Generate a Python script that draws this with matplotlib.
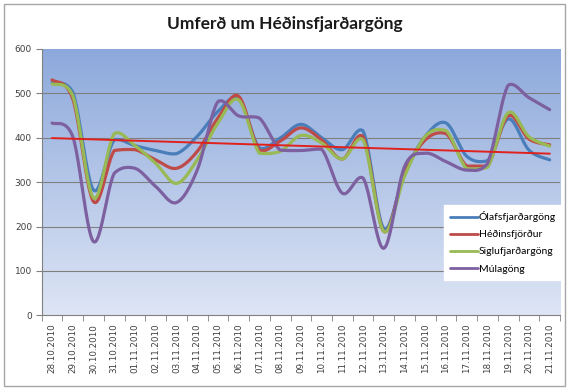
import numpy as np
import matplotlib
matplotlib.use('Agg')
import matplotlib.pyplot as plt
from matplotlib.patches import Rectangle

# ------------------------------------------------------------------------------
# data

dates = ['28.10.2010', '29.10.2010', '30.10.2010', '31.10.2010', '01.11.2010',
         '02.11.2010', '03.11.2010', '04.11.2010', '05.11.2010', '06.11.2010',
         '07.11.2010', '08.11.2010', '09.11.2010', '10.11.2010', '11.11.2010',
         '12.11.2010', '13.11.2010', '14.11.2010', '15.11.2010', '16.11.2010',
         '17.11.2010', '18.11.2010', '19.11.2010', '20.11.2010', '21.11.2010']

olafsfjardargong = [524, 502, 282, 395, 382, 371, 364, 403, 459, 489, 377, 399,
                    430, 400, 373, 415, 196, 320, 403, 433, 358, 348, 442, 372, 350]

hedinsfjordur = [530, 487, 256, 371, 373, 350, 331, 369, 444, 493, 372, 392,
                 422, 395, 352, 402, 189, 320, 395, 409, 336, 336, 449, 397, 384]

siglufjardargong = [521, 494, 264, 409, 382, 342, 297, 350, 433, 485, 365, 369,
                    405, 388, 352, 395, 189, 313, 403, 416, 330, 333, 456, 402, 381]

mulagong = [433, 402, 166, 320, 331, 290, 254, 327, 481, 449, 444, 372,
            371, 374, 275, 309, 151, 335, 365, 346, 327, 342, 518, 490, 463]

trend_ends = [399, 364]

series_names = ['Ólafsfjarðargöng', 'Héðinsfjörður', 'Siglufjarðargöng', 'Múlagöng']
series_colors = ['#4A7EBB', '#BE4B48', '#98B954', '#7D60A0']

# ------------------------------------------------------------------------------

def smoothLine(xs, ys, steps = 24, slack = 0.35):

    # bezier curve through the points, control points kept close to each
    # segment's range so it does not bulge much (like excel's smoothed line)
    xs = np.asarray(xs, dtype = float)
    ys = np.asarray(ys, dtype = float)
    px = np.concatenate(([xs[0]], xs, [xs[-1]]))
    py = np.concatenate(([ys[0]], ys, [ys[-1]]))

    out_x = []
    out_y = []
    t = np.linspace(0, 1, steps, endpoint = False)
    for i in range(1, len(px) - 2):
        p0x, p1x, p2x, p3x = px[i - 1], px[i], px[i + 1], px[i + 2]
        p0y, p1y, p2y, p3y = py[i - 1], py[i], py[i + 1], py[i + 2]
        c1x = p1x + (p2x - p0x) / 6.0
        c1y = p1y + (p2y - p0y) / 6.0
        c2x = p2x - (p3x - p1x) / 6.0
        c2y = p2y - (p3y - p1y) / 6.0
        margin = slack * abs(p2y - p1y)
        lo, hi = min(p1y, p2y) - margin, max(p1y, p2y) + margin
        c1y = np.clip(c1y, lo, hi)
        c2y = np.clip(c2y, lo, hi)
        b0 = (1 - t) ** 3
        b1 = 3 * (1 - t) ** 2 * t
        b2 = 3 * (1 - t) * t ** 2
        b3 = t ** 3
        out_x.extend(b0 * p1x + b1 * c1x + b2 * c2x + b3 * p2x)
        out_y.extend(b0 * p1y + b1 * c1y + b2 * c2y + b3 * p2y)
    out_x.append(xs[-1])
    out_y.append(ys[-1])

    return np.array(out_x), np.array(out_y)

def makeChart():

    fig = plt.figure(figsize = (5.7, 3.9), dpi = 100)
    fig.patch.set_facecolor('white')

    # outer chart border
    fig.patches.append(Rectangle((4 / 570, 4 / 390), 561 / 570, 382 / 390,
                                 transform = fig.transFigure, fill = False,
                                 edgecolor = '#A6A6A6', linewidth = 1.0))

    ax = fig.add_axes([0.0732, 0.1913, 0.9093, 0.6836])

    # gradient background of the plot area
    grad = np.linspace(0, 1, 256).reshape(-1, 1)
    top = np.array([0.55, 0.66, 0.86])
    bottom = np.array([0.87, 0.90, 0.96])
    img = top[None, None, :] * (1 - grad[:, :, None]) + bottom[None, None, :] * grad[:, :, None]
    ax.imshow(img, extent = [0, 1, 0, 1], transform = ax.transAxes,
              aspect = 'auto', zorder = 0)

    x = np.arange(len(dates))
    all_series = [olafsfjardargong, hedinsfjordur, siglufjardargong, mulagong]

    for vals, name, col in zip(all_series, series_names, series_colors):
        sx, sy = smoothLine(x, vals)
        ax.plot(sx, sy, color = col, linewidth = 2.3, label = name,
                solid_capstyle = 'round', zorder = 3)

    ax.plot([x[0], x[-1]], trend_ends, color = '#E0211C', linewidth = 1.4, zorder = 4)

    ax.set_xlim(-0.5, len(dates) - 0.5)
    ax.set_ylim(0, 600)
    ax.set_yticks(np.arange(0, 601, 100))
    ax.set_xticks(x)
    ax.set_xticklabels(dates, rotation = 90, fontsize = 6.3, color = '#404040')
    ax.set_xticks(np.arange(-0.5, len(dates), 1), minor = True)
    ax.tick_params(axis = 'x', which = 'major', length = 0, pad = 6)
    ax.tick_params(axis = 'x', which = 'minor', length = 4, color = '#808080',
                   direction = 'out')
    ax.tick_params(axis = 'y', labelsize = 6.5, labelcolor = '#404040',
                   length = 4, color = '#808080', pad = 3)

    for yv in range(100, 600, 100):
        ax.axhline(yv, color = '#7F7F7F', linewidth = 0.8, zorder = 1)

    for side in ['top', 'right']:
        ax.spines[side].set_visible(False)
    for side in ['left', 'bottom']:
        ax.spines[side].set_color('#808080')
        ax.spines[side].set_linewidth(0.8)

    leg = ax.legend(loc = 'upper right', bbox_to_anchor = (1.004, 0.414),
                    frameon = True, fancybox = False, framealpha = 1.0,
                    edgecolor = 'white', facecolor = 'white',
                    prop = {'family': 'Lato', 'size': 7.5},
                    handlelength = 2.6, handletextpad = 0.1,
                    labelspacing = 0.75, borderpad = 0.6, borderaxespad = 0)
    for line in leg.get_lines():
        line.set_linewidth(2.0)

    fig.text(0.5, 0.938, 'Umferð um Héðinsfjarðargöng', ha = 'center', va = 'center',
             fontsize = 12.5, fontweight = 'bold', family = 'Lato', color = '#1A1A1A')

    return fig

def main():

    fig = makeChart()
    fig.savefig('out.png', dpi = 100)

if __name__ == '__main__':
    main()
